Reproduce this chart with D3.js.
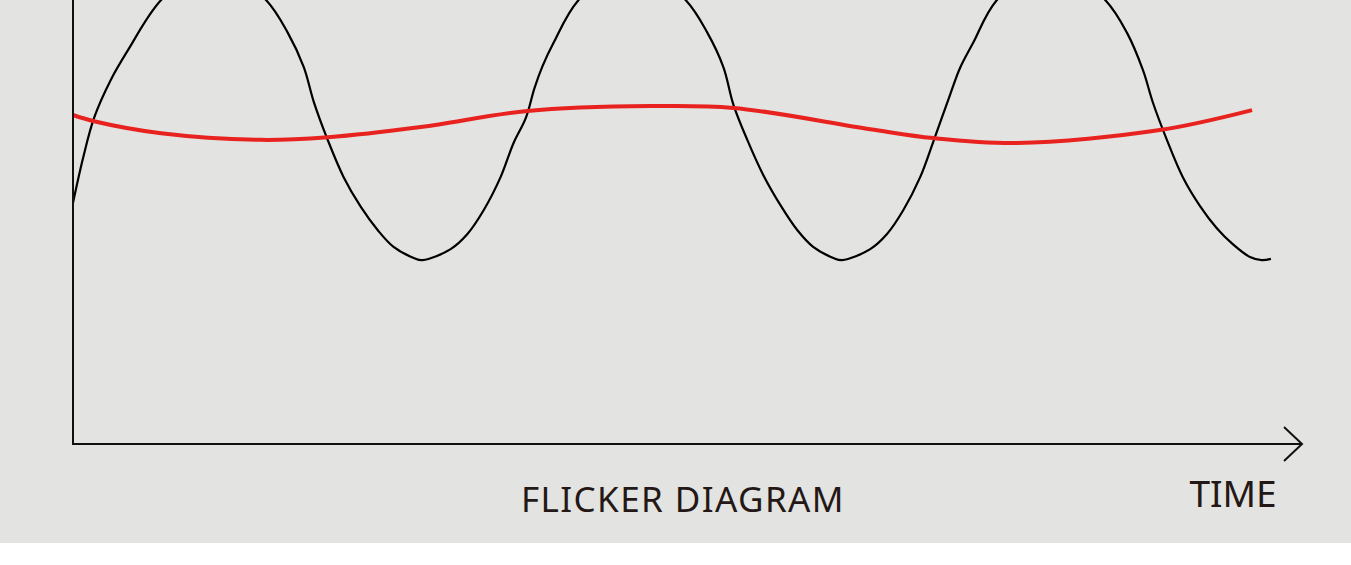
<!DOCTYPE html>
<meta charset="utf-8">
<style>

body {
  margin: 0;
  background: #fff;
}

text {
  font-family: "Noto Sans", sans-serif;
  fill: #231815;
}

</style>
<body>
<script src="https://d3js.org/d3.v7.min.js"></script>
<script>

// time in ms, brightness in %
var lightTime = [0, 0.24, 0.5, 0.9, 1.31, 2.1, 3.33,
		4.6, 5.12, 5.5, 5.74, 6.07, 6.45, 6.86, 7.26, 7.64, 8.12, 8.33,
		9.0, 9.4, 9.79, 10.19, 10.5, 10.79, 11.0, 11.19, 11.45, 12.05, 13.33,
		14.6, 15.12, 15.5, 15.74, 16.07, 16.45, 16.86, 17.26, 17.64, 18.12, 18.33,
		19.0, 19.4, 19.79, 20.19, 20.5, 20.9, 21.14, 21.45, 22.02, 23.33,
		24.6, 25.12, 25.5, 25.74, 26.07, 26.45, 26.86, 27.26, 27.64, 28.05, 28.33, 28.55],
	lightValue = [54.3, 64.4, 73.4, 82.0, 88.7, 100, 109,
		100, 92.6, 84.9, 77.0, 68.5, 60.1, 53.4, 48.2, 44.4, 41.9, 41.4,
		43.9, 47.3, 52.7, 60.1, 67.8, 73.4, 80.2, 85.1, 90.3, 100, 109,
		100, 92.6, 84.9, 76.4, 68.5, 60.6, 53.8, 48.2, 44.4, 41.9, 41.4,
		43.9, 47.3, 52.7, 60.1, 68.0, 78.6, 84.7, 90.3, 100, 109,
		100, 92.6, 84.2, 76.8, 68.5, 60.1, 53.6, 48.6, 45.0, 42.1, 41.4, 41.7],
	perceivedTime = [0, 0.5, 2.1, 4.48, 6.07, 8.29, 10.83, 13.76, 15.74, 19.0, 20.5, 22.5, 25.9, 28.1],
	perceivedValue = [74.1, 72.7, 70.0, 68.5, 69.1, 71.4, 75.0, 76.1, 75.7, 70.9, 68.9, 67.8, 70.7, 75.2],
	title = "FLICKER DIAGRAM",
	axisLabel = "TIME";

var width = 1351,
	height = 565,
	panelHeight = 543,
	margin = {left: 73, top: 0, right: 49, bottom: 121},
	svg = d3.select("body").append("svg")
		.attr("width", width)
		.attr("height", height);

var x = d3.scaleLinear()
	.domain([0, 29.29])
	.range([margin.left, width - margin.right]);

var y = d3.scaleLinear()
	.domain([0, 100])
	.range([height - margin.bottom, 0]);

svg.append("rect")
	.attr("width", width)
	.attr("height", panelHeight)
	.attr("fill", "#e3e3e1");

var plot = svg.append("g");

var line = d3.line()
	.x(function(d) { return x(d[0]); })
	.y(function(d) { return y(d[1]); })
	.curve(d3.curveCatmullRom.alpha(0.5));

// light output
plot.append("path")
	.datum(d3.zip(lightTime, lightValue))
	.attr("d", line)
	.attr("fill", "none")
	.attr("stroke", "#000")
	.attr("stroke-width", 2.2);

// perceived brightness
plot.append("path")
	.datum(d3.zip(perceivedTime, perceivedValue))
	.attr("d", line)
	.attr("fill", "none")
	.attr("stroke", "#e8231f")
	.attr("stroke-width", 4);

// axes
var x0 = x(0), y0 = y(0), xEnd = x.range()[1];

svg.append("line")
	.attr("x1", x0).attr("y1", 0)
	.attr("x2", x0).attr("y2", y0 + 1)
	.attr("stroke", "#111")
	.attr("stroke-width", 2);

svg.append("line")
	.attr("x1", x0 - 1).attr("y1", y0)
	.attr("x2", xEnd - 1).attr("y2", y0)
	.attr("stroke", "#111")
	.attr("stroke-width", 2);

svg.append("path")
	.attr("d", "M" + (xEnd - 18) + "," + (y0 - 17) + "L" + xEnd + "," + y0 + "L" + (xEnd - 18) + "," + (y0 + 17))
	.attr("fill", "none")
	.attr("stroke", "#111")
	.attr("stroke-width", 2);

svg.append("text")
	.attr("x", 683)
	.attr("y", 512)
	.attr("text-anchor", "middle")
	.style("font-size", "35px")
	.style("letter-spacing", "1.4px")
	.text(title);

svg.append("text")
	.attr("x", 1233)
	.attr("y", 507)
	.attr("text-anchor", "middle")
	.style("font-size", "37px")
	.text(axisLabel);

</script>
</body>
</html>
